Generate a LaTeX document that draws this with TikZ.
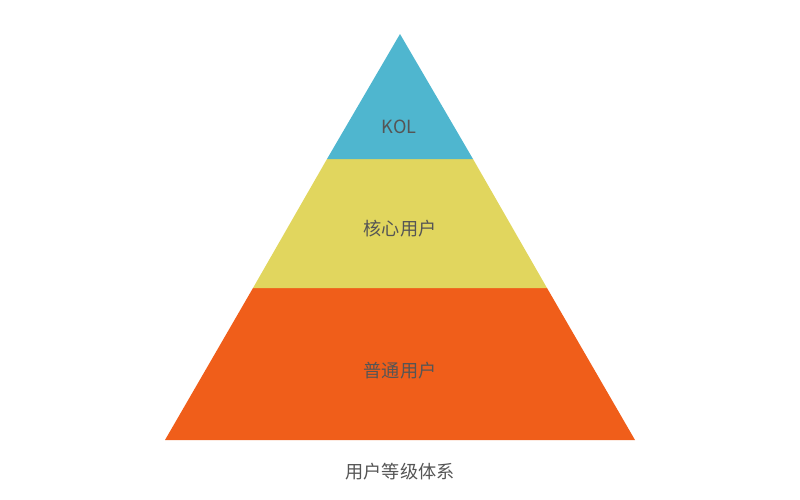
\documentclass[tikz,border=0pt]{standalone}
\usepackage{fontspec}
\newfontfamily\cjk{Noto Sans CJK SC}
\usepackage{tikz}
\definecolor{topblue}{HTML}{4FB6CF}
\definecolor{midyellow}{HTML}{E1D65E}
\definecolor{loworange}{HTML}{F05E1A}
\definecolor{labelgray}{HTML}{555555}
\tikzset{
  tier/.style={font=\cjk\fontsize{15.5}{18}\selectfont,text=labelgray},
}
\begin{document}
\begin{tikzpicture}[x=0.03cm,y=-0.03cm]
\useasboundingbox (0,0) rectangle (800,500);
\fill[loworange] (253,288) -- (547,288) -- (635,440) -- (165,440) -- cycle;
\fill[midyellow] (327,159) -- (473,159) -- (547,288) -- (253,288) -- cycle;
\fill[topblue] (400,34) -- (473,159) -- (327,159) -- cycle;

\node[tier] (kol) at (399,127) {KOL};
\node[tier] (core) at (400,229) {核心用户};
\node[tier] (plain) at (400,371) {普通用户};
\node[tier] (title) at (400,472) {用户等级体系};
\end{tikzpicture}
\end{document}
